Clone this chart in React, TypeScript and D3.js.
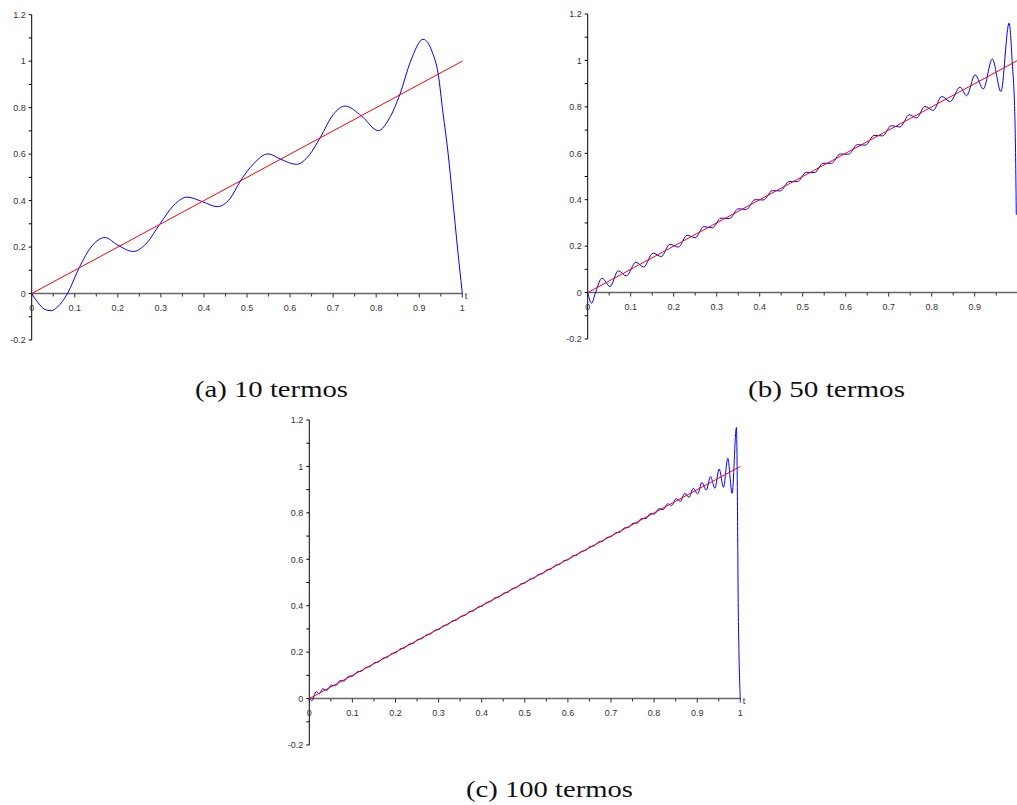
import React from 'react';
import * as d3 from 'd3';

type Pt = [number, number];

// tick labels shared by the three plots
const xTickLabels = ['0', '0.1', '0.2', '0.3', '0.4', '0.5', '0.6', '0.7', '0.8', '0.9', '1'];
const yTickLabels = ['-0.2', '0', '0.2', '0.4', '0.6', '0.8', '1', '1.2'];

// f(t) = t
const target: Pt[] = [[0, 0], [1, 1]];

// partial sums
const curve10: Pt[] = [
  [0, 0], [0.015, -0.04], [0.03, -0.068], [0.045, -0.074], [0.06, -0.058], [0.083, 0],
  [0.11, 0.11], [0.14, 0.205], [0.17, 0.241], [0.2, 0.208], [0.236, 0.181], [0.265, 0.213],
  [0.298, 0.3], [0.33, 0.38], [0.361, 0.415], [0.397, 0.395], [0.431, 0.374], [0.46, 0.407],
  [0.485, 0.485], [0.515, 0.558], [0.549, 0.601], [0.577, 0.579], [0.615, 0.556], [0.645, 0.597],
  [0.67, 0.671], [0.7, 0.77], [0.728, 0.807], [0.766, 0.764], [0.805, 0.701], [0.83, 0.752],
  [0.855, 0.857], [0.88, 1.0], [0.909, 1.094], [0.93, 1.04], [0.944, 0.945], [0.955, 0.78],
  [0.967, 0.604], [0.977, 0.42], [0.987, 0.231], [1, 0],
];

const curve50: Pt[] = [
  [0, 0], [0.009, -0.046], [0.019, 0.005], [0.033, 0.062], [0.052, 0.026], [0.071, 0.094],
  [0.09, 0.072], [0.112, 0.131], [0.13, 0.11], [0.152, 0.17], [0.171, 0.155], [0.191, 0.208],
  [0.211, 0.196], [0.231, 0.247], [0.25, 0.236], [0.27, 0.284], [0.29, 0.279], [0.31, 0.321],
  [0.33, 0.319], [0.35, 0.361], [0.369, 0.358], [0.389, 0.4], [0.409, 0.399], [0.429, 0.439],
  [0.448, 0.438], [0.468, 0.478], [0.488, 0.478], [0.508, 0.518], [0.528, 0.517], [0.547, 0.557],
  [0.567, 0.557], [0.587, 0.597], [0.607, 0.596], [0.627, 0.637], [0.646, 0.635], [0.666, 0.677],
  [0.686, 0.675], [0.706, 0.719], [0.726, 0.713], [0.748, 0.766], [0.765, 0.752], [0.784, 0.802],
  [0.804, 0.785], [0.823, 0.845], [0.843, 0.823], [0.866, 0.885], [0.881, 0.848], [0.901, 0.938],
  [0.92, 0.877], [0.941, 1.006], [0.961, 0.866], [0.98, 1.161], [0.987, 1.0], [0.994, 0.716],
  [0.9967, 0.335],
];

const curve100: Pt[] = [
  [0, 0], [0.006, -0.009], [0.016, 0.03], [0.023, 0.02], [0.031, 0.042], [0.041, 0.036],
  [0.051, 0.058], [0.061, 0.055], [0.071, 0.077], [0.081, 0.076], [0.091, 0.096], [0.101, 0.097],
  [0.111, 0.115], [0.121, 0.118], [0.131, 0.134], [0.141, 0.138], [0.151, 0.154], [0.161, 0.158],
  [0.171, 0.174], [0.181, 0.178], [0.191, 0.194], [0.201, 0.198], [0.211, 0.214], [0.221, 0.218],
  [0.231, 0.234], [0.241, 0.238], [0.251, 0.254], [0.261, 0.258], [0.271, 0.274], [0.281, 0.278],
  [0.291, 0.294], [0.301, 0.298], [0.311, 0.314], [0.321, 0.318], [0.331, 0.334], [0.341, 0.338],
  [0.351, 0.354], [0.361, 0.358], [0.371, 0.374], [0.381, 0.378], [0.391, 0.394], [0.401, 0.398],
  [0.411, 0.414], [0.421, 0.418], [0.431, 0.434], [0.441, 0.438], [0.451, 0.454], [0.461, 0.458],
  [0.471, 0.474], [0.481, 0.478], [0.491, 0.494], [0.501, 0.498], [0.511, 0.514], [0.521, 0.518],
  [0.531, 0.534], [0.541, 0.538], [0.551, 0.554], [0.561, 0.558], [0.571, 0.574], [0.581, 0.578],
  [0.591, 0.594], [0.601, 0.598], [0.611, 0.614], [0.621, 0.618], [0.631, 0.634], [0.641, 0.638],
  [0.651, 0.654], [0.661, 0.658], [0.671, 0.674], [0.681, 0.678], [0.691, 0.694], [0.701, 0.698],
  [0.711, 0.714], [0.721, 0.717], [0.731, 0.735], [0.741, 0.737], [0.751, 0.755], [0.761, 0.756],
  [0.771, 0.776], [0.781, 0.775], [0.791, 0.797], [0.801, 0.795], [0.811, 0.818], [0.821, 0.814],
  [0.831, 0.839], [0.841, 0.832], [0.851, 0.861], [0.861, 0.85], [0.871, 0.884], [0.881, 0.867],
  [0.891, 0.906], [0.901, 0.881], [0.911, 0.931], [0.921, 0.898], [0.931, 0.956], [0.941, 0.906],
  [0.951, 0.989], [0.961, 0.91], [0.971, 1.035], [0.981, 0.884], [0.991, 1.168], [0.994, 0.697],
  [0.995, 0.44], [0.997, 0.19], [1, 0],
];

const captions = ['(a) 10 termos', '(b) 50 termos', '(c) 100 termos'];

const W = 1017;
const H = 805;

type PanelProps = {
  data: Pt[];
  x0: number; x1: number; yTop: number; yBot: number;
  caption: string; capX: number; capY: number; capW: number;
};

function Panel({ data, x0, x1, yTop, yBot, caption, capX, capY, capW }: PanelProps) {
  const x = d3.scaleLinear().domain([0, 1]).range([x0, x1]);
  const y = d3.scaleLinear().domain([-0.2, 1.2]).range([yBot, yTop]);
  const smooth = d3.line<Pt>().x(d => x(d[0])).y(d => y(d[1])).curve(d3.curveMonotoneX);
  const straight = d3.line<Pt>().x(d => x(d[0])).y(d => y(d[1]));
  const y0 = y(0);
  const ax = x(0);
  const xMinor = x.ticks(20);
  const yMinor = y.ticks(14);
  const xMajor = xTickLabels.map(Number);
  const yMajor = yTickLabels.map(Number);
  const font = '"Liberation Sans", Arial, sans-serif';
  const endVisible = x(1) < W - 4;

  return (
    <g>
      {/* y axis */}
      <line x1={ax} x2={ax} y1={y(-0.2)} y2={y(1.2)} stroke="#000" strokeWidth={1} />
      {yMinor.map((v, i) => (
        <line key={'ym' + i} x1={ax - 3} x2={ax} y1={y(v)} y2={y(v)} stroke="#000" strokeWidth={1} />
      ))}
      {yMajor.map((v, i) => (
        <text key={'yl' + i} x={ax - 6} y={y(v) + 3.3} textAnchor="end" fontSize={9}
          fontFamily={font} fill="#333">{yTickLabels[i]}</text>
      ))}

      {/* x axis */}
      <line x1={ax} x2={x(1)} y1={y0} y2={y0} stroke="#666" strokeWidth={1.6} />
      {xMinor.map((v, i) => {
        const major = xMajor.some(m => Math.abs(m - v) < 1e-9);
        return <line key={'xm' + i} x1={x(v)} x2={x(v)} y1={y0} y2={y0 + (major ? 4 : 3)}
          stroke="#333" strokeWidth={1} />;
      })}
      {xMajor.map((v, i) => (x(v) < W - 4 ? (
        <text key={'xl' + i} x={x(v)} y={y0 + 17.5} textAnchor="middle" fontSize={9}
          fontFamily={font} fill="#333">{xTickLabels[i]}</text>
      ) : null))}
      {endVisible && (
        <text x={x(1) + 2.5} y={y0 + 5} fontSize={9} fontFamily={font} fill="#333">t</text>
      )}

      {/* curves */}
      <path d={smooth(data) ?? ''} fill="none" stroke="#0000ff" strokeWidth={1} />
      <path d={straight(target) ?? ''} fill="none" stroke="#ff0000" strokeWidth={1} />

      <text x={capX} y={capY} fontSize={23} textLength={capW} lengthAdjust="spacingAndGlyphs"
        fontFamily='"Liberation Serif", "DejaVu Serif", serif' fill="#111">{caption}</text>
    </g>
  );
}

export default function App() {
  return (
    <div style={{ position: 'absolute', left: 0, top: 0, width: W, height: H, background: '#fff' }}>
      <svg width={W} height={H} style={{ display: 'block' }}>
        <rect width={W} height={H} fill="#fff" />
        <Panel data={curve10} x0={31.7} x1={462.3} yTop={14.7} yBot={340}
          caption={captions[0]} capX={195} capY={397} capW={153} />
        <Panel data={curve50} x0={587.7} x1={1017.7} yTop={14} yBot={339}
          caption={captions[1]} capX={748} capY={397} capW={157} />
        <Panel data={curve100} x0={309.3} x1={740.3} yTop={420} yBot={745}
          caption={captions[2]} capX={466} capY={797} capW={167} />
      </svg>
    </div>
  );
}
